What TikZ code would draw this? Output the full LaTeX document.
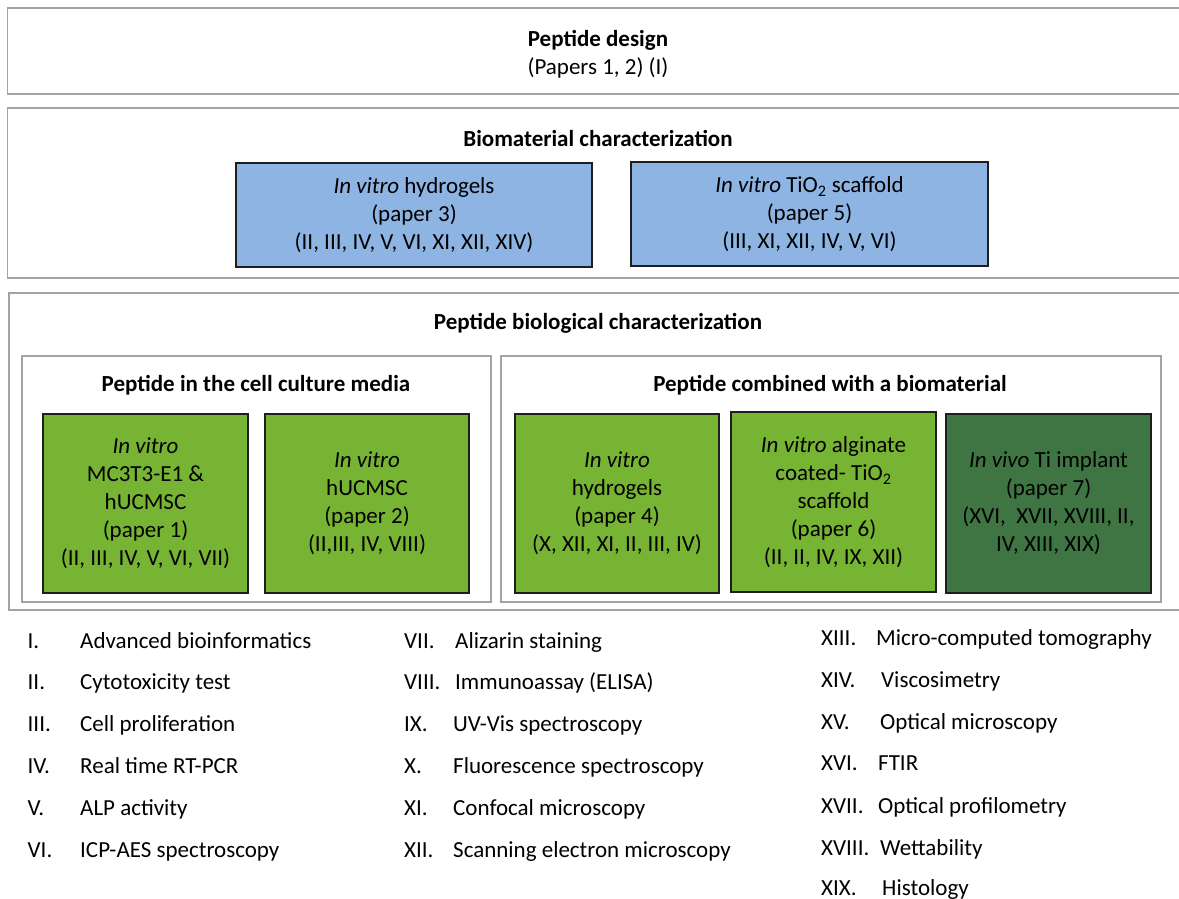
\documentclass[tikz,border=0pt]{standalone}
\usepackage{fontspec}
\setmainfont{Carlito}
\definecolor{blueF}{HTML}{8EB4E3}
\definecolor{greenF}{HTML}{77B433}
\definecolor{dgreenF}{HTML}{3E7542}
\definecolor{grayL}{HTML}{A3A3A3}
\definecolor{edgeD}{HTML}{1E1E1E}
\tikzset{
  frame/.style={draw=grayL, line width=1.6pt, inner sep=0pt, outer sep=0pt},
  colbox/.style={draw=edgeD, line width=1.6pt, inner sep=0pt, outer sep=0pt, align=center,
    font=\fontsize{23}{28}\selectfont},
  ttl/.style={font=\fontsize{23}{26}\selectfont\bfseries, inner sep=0pt},
  leg/.style={font=\fontsize{23}{26}\selectfont, anchor=base west, inner sep=0pt}
}
\begin{document}
\begin{tikzpicture}[x=1pt,y=-1pt]
\clip (0,0) rectangle (1179,899);
\fill[white] (0,0) rectangle (1179,899);
% top box
\node[frame, minimum width=1183pt, minimum height=86pt] (design) at (599,51) {};
\node[inner sep=0pt, align=center, font=\fontsize{23}{28}\selectfont] (designT) at (598,54)
  {\textbf{Peptide design}\\(Papers 1, 2) (I)};
% biomaterial box
\node[frame, minimum width=1183pt, minimum height=170pt] (bioMat) at (599,193) {};
\node[ttl] (bioMatT) at (598,138) {Biomaterial characterization};
\node[colbox, fill=blueF, minimum width=356pt, minimum height=104pt] (hyd) at (414,215)
  {\textit{In vitro} hydrogels\\(paper 3)\\(II, III, IV, V, VI, XI, XII, XIV)};
\node[colbox, fill=blueF, minimum width=357pt, minimum height=104pt] (tio) at (809.5,214)
  {\textit{In vitro} TiO\textsubscript{2} scaffold\\(paper 5)\\(III, XI, XII, IV, V, VI)};
% biological box
\node[frame, minimum width=1182pt, minimum height=317pt] (bio) at (600,451.5) {};
\node[ttl] (bioT) at (598,323) {Peptide biological characterization};
\node[frame, minimum width=469pt, minimum height=246pt] (media) at (256.5,479) {};
\node[ttl] (mediaT) at (256,385) {Peptide in the cell culture media};
\node[frame, minimum width=660pt, minimum height=246pt] (comb) at (831,479) {};
\node[ttl] (combT) at (830,385) {Peptide combined with a biomaterial};
\node[colbox, fill=greenF, minimum width=205pt, minimum height=179pt] (g1) at (145.5,503.5)
  {\textit{In vitro}\\MC3T3-E1 \&\\hUCMSC\\(paper 1)\\(II, III, IV, V, VI, VII)};
\node[colbox, fill=greenF, minimum width=204pt, minimum height=179pt] (g2) at (367,503.5)
  {\textit{In vitro}\\hUCMSC\\(paper 2)\\(II,III, IV, VIII)};
\node[colbox, fill=greenF, minimum width=204pt, minimum height=179pt] (g3) at (617,503.5)
  {\textit{In vitro}\\hydrogels\\(paper 4)\\(X, XII, XI, II, III, IV)};
\node[colbox, fill=greenF, minimum width=205pt, minimum height=180pt] (g4) at (833.5,502)
  {\textit{In vitro} alginate\\coated- TiO\textsubscript{2}\\scaffold\\(paper 6)\\(II, II, IV, IX, XII)};
\node[colbox, fill=dgreenF, minimum width=205pt, minimum height=179pt] (g5) at (1048.5,503.5)
  {\textit{In vivo} Ti implant\\(paper 7)\\(XVI,\ \ XVII, XVIII, II,\\IV, XIII, XIX)};
% legend column 1
\foreach \n/\num/\txt/\yy in {a/I./Advanced bioinformatics/648, b/II./Cytotoxicity test/689,
  c/III./Cell proliferation/731, d/IV./Real time RT-PCR/773, e/V./ALP activity/815,
  f/VI./ICP-AES spectroscopy/857}{
  \node[leg] (n\n) at (27.5,\yy) {\num};
  \node[leg] (t\n) at (80,\yy) {\txt};
}
% legend column 2
\foreach \n/\num/\txt/\xx/\yy in {g/VII./Alizarin staining/455/648, h/VIII./Immunoassay (ELISA)/455/689,
  i/IX./UV-Vis spectroscopy/453/731, j/X./Fluorescence spectroscopy/453/773,
  k/XI./Confocal microscopy/453/815, l/XII./Scanning electron microscopy/453/857}{
  \node[leg] (n\n) at (404,\yy) {\num};
  \node[leg] (t\n) at (\xx,\yy) {\txt};
}
% legend column 3
\foreach \n/\num/\txt/\xx/\yy in {m/XIII./Micro-computed tomography/876/645, o/XIV./Viscosimetry/881/687,
  p/XV./Optical microscopy/880/729, q/XVI./FTIR/878/770, r/XVII./Optical profilometry/878/813,
  s/XVIII./Wettability/880/855, u/XIX./Histology/882/895}{
  \node[leg] (n\n) at (821,\yy) {\num};
  \node[leg] (t\n) at (\xx,\yy) {\txt};
}
\end{tikzpicture}
\end{document}
